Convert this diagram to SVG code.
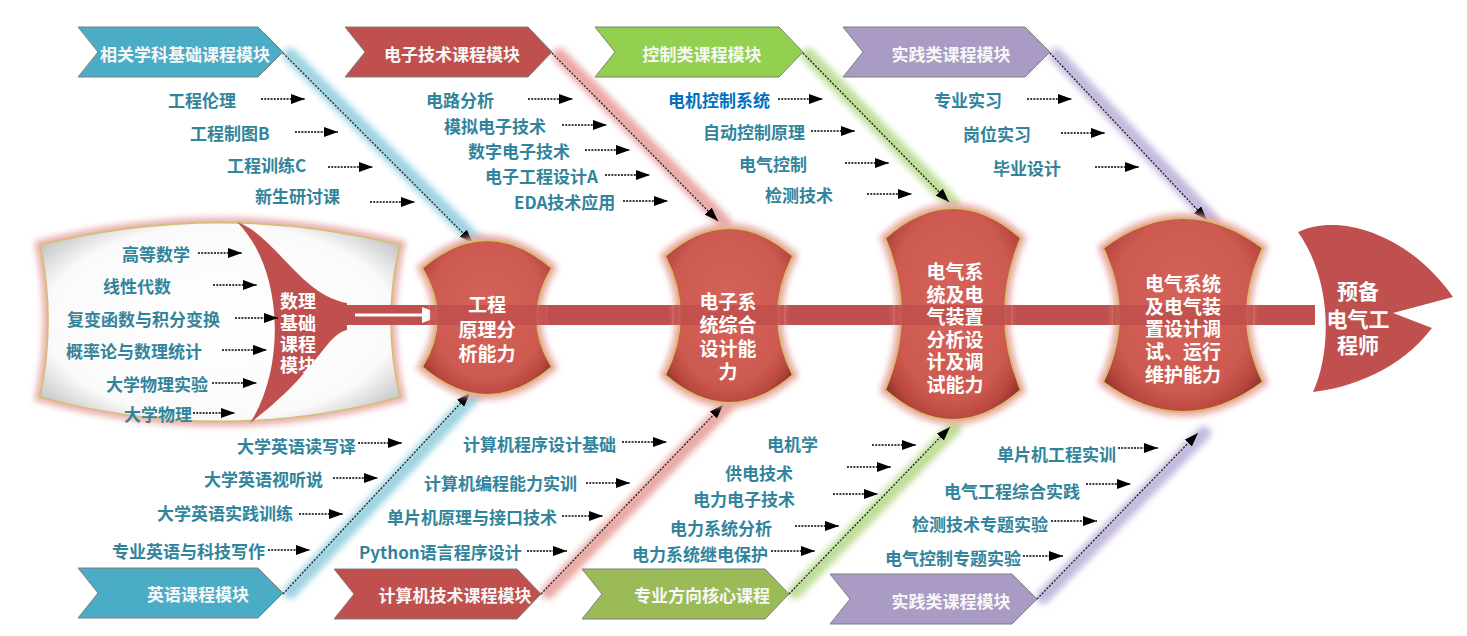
<svg xmlns="http://www.w3.org/2000/svg" width="1467" height="636" viewBox="0 0 1467 636">
<defs>
<style>
.t{font-family:"Noto Sans CJK SC","Noto Sans",sans-serif;font-weight:bold;font-size:17px;fill:#31849B;dominant-baseline:central}
.tb{fill:#0070C0}
.ct{font-family:"Noto Sans CJK SC","Noto Sans",sans-serif;font-weight:bold;font-size:17px;fill:#F7F7F7;text-anchor:middle;dominant-baseline:central}
.ft{font-size:18px;fill:#FFFFFF}
.nt{font-family:"Noto Sans CJK SC","Noto Sans",sans-serif;font-weight:bold;font-size:19px;fill:#FFFFFF;text-anchor:middle;dominant-baseline:central}
.ht{font-family:"Noto Sans CJK SC","Noto Sans",sans-serif;font-weight:bold;font-size:21px;fill:#FFFFFF;text-anchor:middle;dominant-baseline:central}
.sa{stroke:#000;stroke-width:1.3;stroke-dasharray:2 1.2;fill:none;marker-end:url(#ah)}
.dg{stroke:#222;stroke-width:1.3;stroke-dasharray:2 1.5;fill:none;marker-end:url(#ah)}
.chev{stroke:#7F7F7F;stroke-width:1}
.glow{fill:none;stroke-width:14;stroke-linecap:round;filter:url(#bl)}
.nodeglow{fill:none;stroke:#E9A7A2;stroke-width:9;filter:url(#bl)}
.node{fill:url(#ng);stroke:#D9BC72;stroke-width:2}
.band{fill:#C0504D;opacity:0.88}
</style>
<marker id="ah" markerWidth="14" markerHeight="10" refX="14" refY="5" orient="auto" markerUnits="userSpaceOnUse">
<path d="M0,0 L14,5 L0,10 Z" fill="#000"/>
</marker>
<filter id="bl" x="-20%" y="-20%" width="140%" height="140%"><feGaussianBlur stdDeviation="3"/></filter>
<radialGradient id="ng" cx="0.5" cy="0.45" r="0.62">
<stop offset="0" stop-color="#D5635A"/>
<stop offset="0.72" stop-color="#CD5A50"/>
<stop offset="0.9" stop-color="#B8473F"/>
<stop offset="1" stop-color="#98352F"/>
</radialGradient>
<radialGradient id="pg" cx="0.5" cy="0.5" r="0.65">
<stop offset="0" stop-color="#FFFFFF"/>
<stop offset="0.75" stop-color="#FAFAFA"/>
<stop offset="1" stop-color="#BDBDBD"/>
</radialGradient>
</defs>
<rect width="1467" height="636" fill="#FFFFFF"/>

<!-- tail panel -->
<g id="tail">
<path d="M40,245 Q220,200 400,245 Q382,320 400,397 Q220,446 40,397 Q56,320 40,245 Z" fill="none" stroke="#E8AFAA" stroke-width="10" filter="url(#bl)"/>
<path d="M40,245 Q220,200 400,245 Q382,320 400,397 Q220,446 40,397 Q56,320 40,245 Z" fill="url(#pg)" stroke="#D6BE7A" stroke-width="1.8"/>
<path d="M237,222 C275,235 300,295 347,303 L347,330 C325,335 318,372 250,423 C285,370 285,270 237,222 Z" fill="#C0504D"/>
<text class="ct ft" x="298" y="300"><tspan x="298" y="300">数理</tspan><tspan x="298" y="322">基础</tspan><tspan x="298" y="343">课程</tspan><tspan x="298" y="364">模块</tspan></text>
</g>

<!-- connectors -->
<g id="connectors">
<rect x="345" y="305" width="970" height="20" fill="#C0504D"/>
<line x1="355" y1="315" x2="424" y2="315" stroke="#FFFFFF" stroke-width="3"/>
<path d="M422,307 L443,315 L422,323 Z" fill="#FFFFFF"/>
<!-- glows -->
<line class="glow" x1="290" y1="55" x2="478" y2="243" stroke="#9ED3E1"/>
<line class="glow" x1="290" y1="592" x2="476" y2="393" stroke="#9ED3E1"/>
<line class="glow" x1="559" y1="55" x2="724" y2="222" stroke="#E9A9A6"/>
<line class="glow" x1="548" y1="592" x2="728" y2="405" stroke="#E9A9A6"/>
<line class="glow" x1="808" y1="55" x2="953" y2="204" stroke="#BFDD98"/>
<line class="glow" x1="795" y1="592" x2="955" y2="427" stroke="#BFDD98"/>
<line class="glow" x1="1056" y1="55" x2="1212" y2="220" stroke="#C3B9DE"/>
<line class="glow" x1="1043" y1="597" x2="1204" y2="433" stroke="#C3B9DE"/>
<!-- diagonals -->
<line class="dg" x1="283" y1="53" x2="473" y2="243"/>
<line class="dg" x1="552" y1="53" x2="718" y2="221"/>
<line class="dg" x1="803" y1="53" x2="949" y2="202"/>
<line class="dg" x1="1050" y1="53" x2="1207" y2="220"/>
<line class="dg" x1="283" y1="594" x2="470" y2="393"/>
<line class="dg" x1="541" y1="594" x2="723" y2="405"/>
<line class="dg" x1="789" y1="594" x2="950" y2="427"/>
<line class="dg" x1="1037" y1="599" x2="1198" y2="433"/>
<!-- short arrows -->
<line class="sa" x1="261" y1="99" x2="305" y2="99"/>
<line class="sa" x1="295" y1="132" x2="338" y2="132"/>
<line class="sa" x1="328" y1="167" x2="373" y2="167"/>
<line class="sa" x1="370" y1="202" x2="415" y2="202"/>
<line class="sa" x1="198" y1="253" x2="242" y2="253"/>
<line class="sa" x1="213" y1="285" x2="257" y2="285"/>
<line class="sa" x1="235" y1="318" x2="278" y2="318"/>
<line class="sa" x1="222" y1="350" x2="267" y2="350"/>
<line class="sa" x1="212" y1="383" x2="257" y2="383"/>
<line class="sa" x1="193" y1="413" x2="235" y2="413"/>
<line class="sa" x1="358" y1="443" x2="402" y2="443"/>
<line class="sa" x1="333" y1="478" x2="378" y2="478"/>
<line class="sa" x1="299" y1="514" x2="343" y2="514"/>
<line class="sa" x1="268" y1="550" x2="310" y2="550"/>
<line class="sa" x1="528" y1="99" x2="573" y2="99"/>
<line class="sa" x1="562" y1="125" x2="607" y2="125"/>
<line class="sa" x1="585" y1="150" x2="630" y2="150"/>
<line class="sa" x1="605" y1="175" x2="650" y2="175"/>
<line class="sa" x1="623" y1="201" x2="668" y2="201"/>
<line class="sa" x1="778" y1="99" x2="823" y2="99"/>
<line class="sa" x1="811" y1="131" x2="855" y2="131"/>
<line class="sa" x1="845" y1="163" x2="889" y2="163"/>
<line class="sa" x1="867" y1="194" x2="912" y2="194"/>
<line class="sa" x1="1027" y1="99" x2="1072" y2="99"/>
<line class="sa" x1="1061" y1="133" x2="1105" y2="133"/>
<line class="sa" x1="1095" y1="167" x2="1139" y2="167"/>
<line class="sa" x1="622" y1="442" x2="667" y2="442"/>
<line class="sa" x1="586" y1="483" x2="630" y2="483"/>
<line class="sa" x1="562" y1="516" x2="603" y2="516"/>
<line class="sa" x1="527" y1="551" x2="567" y2="551"/>
<line class="sa" x1="872" y1="445" x2="916" y2="445"/>
<line class="sa" x1="847" y1="467" x2="891" y2="467"/>
<line class="sa" x1="833" y1="494" x2="878" y2="494"/>
<line class="sa" x1="795" y1="526" x2="839" y2="526"/>
<line class="sa" x1="771" y1="551" x2="815" y2="551"/>
<line class="sa" x1="1118" y1="448" x2="1158" y2="448"/>
<line class="sa" x1="1086" y1="484" x2="1131" y2="484"/>
<line class="sa" x1="1051" y1="521" x2="1097" y2="521"/>
<line class="sa" x1="1023" y1="556" x2="1063" y2="556"/>
</g>

<!-- chevrons -->
<g id="chev-top-basic"><path class="chev" d="M78,27 L258,27 L283,52 L258,77 L78,77 L98,52 Z" fill="#4BACC6"/><text class="ct" x="185" y="53">相关学科基础课程模块</text></g>
<g id="chev-top-elec"><path class="chev" d="M345,27 L528,27 L552,52 L528,77 L345,77 L365,52 Z" fill="#C0504D"/><text class="ct" x="452" y="53">电子技术课程模块</text></g>
<g id="chev-top-ctrl"><path class="chev" d="M595,27 L779,27 L803,52 L779,77 L595,77 L615,52 Z" fill="#92D050"/><text class="ct" x="702" y="53">控制类课程模块</text></g>
<g id="chev-top-prac"><path class="chev" d="M843,27 L1025,27 L1050,52 L1025,77 L843,77 L863,52 Z" fill="#A99BC3"/><text class="ct" x="951" y="53">实践类课程模块</text></g>
<g id="chev-bot-eng"><path class="chev" d="M78,568 L258,568 L283,593 L258,618 L78,618 L98,593 Z" fill="#4BACC6"/><text class="ct" x="198" y="593">英语课程模块</text></g>
<g id="chev-bot-comp"><path class="chev" d="M334,569 L517,569 L541,594 L517,619 L334,619 L354,594 Z" fill="#C0504D"/><text class="ct" x="455" y="594">计算机技术课程模块</text></g>
<g id="chev-bot-core"><path class="chev" d="M582,569 L765,569 L789,594 L765,619 L582,619 L602,594 Z" fill="#9BBB59"/><text class="ct" x="702" y="594">专业方向核心课程</text></g>
<g id="chev-bot-prac"><path class="chev" d="M830,574 L1012,574 L1037,599 L1012,624 L830,624 L850,599 Z" fill="#A99BC3"/><text class="ct" x="951" y="600">实践类课程模块</text></g>

<!-- course labels -->
<g id="labels">
<text class="t" x="168" y="99">工程伦理</text>
<text class="t" x="190" y="132">工程制图B</text>
<text class="t" x="227" y="164">工程训练C</text>
<text class="t" x="255" y="195">新生研讨课</text>
<text class="t" x="122" y="253">高等数学</text>
<text class="t" x="103" y="285">线性代数</text>
<text class="t" x="67" y="318">复变函数与积分变换</text>
<text class="t" x="66" y="350">概率论与数理统计</text>
<text class="t" x="106" y="383">大学物理实验</text>
<text class="t" x="124" y="413">大学物理</text>
<text class="t" x="237" y="445">大学英语读写译</text>
<text class="t" x="204" y="478">大学英语视听说</text>
<text class="t" x="157" y="512">大学英语实践训练</text>
<text class="t" x="112" y="550">专业英语与科技写作</text>
<text class="t" x="426" y="99">电路分析</text>
<text class="t" x="444" y="125">模拟电子技术</text>
<text class="t" x="468" y="150">数字电子技术</text>
<text class="t" x="485" y="175">电子工程设计A</text>
<text class="t" x="514" y="201">EDA技术应用</text>
<text class="t tb" x="668" y="99">电机控制系统</text>
<text class="t" x="703" y="131">自动控制原理</text>
<text class="t" x="739" y="163">电气控制</text>
<text class="t" x="765" y="194">检测技术</text>
<text class="t" x="934" y="99">专业实习</text>
<text class="t" x="963" y="133">岗位实习</text>
<text class="t" x="993" y="167">毕业设计</text>
<text class="t" x="463" y="443">计算机程序设计基础</text>
<text class="t" x="424" y="482">计算机编程能力实训</text>
<text class="t" x="387" y="516">单片机原理与接口技术</text>
<text class="t" x="359" y="551">Python语言程序设计</text>
<text class="t" x="767" y="443">电机学</text>
<text class="t" x="725" y="472">供电技术</text>
<text class="t" x="693" y="498">电力电子技术</text>
<text class="t" x="670" y="527">电力系统分析</text>
<text class="t" x="632" y="553">电力系统继电保护</text>
<text class="t" x="997" y="453">单片机工程实训</text>
<text class="t" x="944" y="490">电气工程综合实践</text>
<text class="t" x="912" y="523">检测技术专题实验</text>
<text class="t" x="885" y="557">电气控制专题实验</text>
</g>

<!-- ability nodes -->
<g id="node1">
<path class="nodeglow" d="M422,268 Q487,212 552,268 Q522,318 552,367 Q487,423 422,367 Q452,318 422,268 Z"/>
<path class="node" d="M422,268 Q487,212 552,268 Q522,318 552,367 Q487,423 422,367 Q452,318 422,268 Z"/>
<rect class="band" x="430" y="305" width="115" height="20"/>
<text class="nt" x="487" y="303"><tspan x="487" y="303">工程</tspan><tspan x="487" y="328">原理分</tspan><tspan x="487" y="352">析能力</tspan></text>
</g>
<g id="node2">
<path class="nodeglow" d="M665,256 Q729,200 793,256 Q763,316 793,375 Q729,431 665,375 Q695,316 665,256 Z"/>
<path class="node" d="M665,256 Q729,200 793,256 Q763,316 793,375 Q729,431 665,375 Q695,316 665,256 Z"/>
<rect class="band" x="674" y="305" width="110" height="20"/>
<text class="nt" x="728" y="300"><tspan x="728" y="300">电子系</tspan><tspan x="728" y="323">统综合</tspan><tspan x="728" y="347">设计能</tspan><tspan x="728" y="370">力</tspan></text>
</g>
<g id="node3">
<path class="nodeglow" d="M885,238 Q953,178 1021,238 Q989,314 1021,390 Q953,450 885,390 Q917,314 885,238 Z"/>
<path class="node" d="M885,238 Q953,178 1021,238 Q989,314 1021,390 Q953,450 885,390 Q917,314 885,238 Z"/>
<rect class="band" x="895" y="305" width="116" height="20"/>
<text class="nt" x="955" y="270"><tspan x="955" y="270">电气系</tspan><tspan x="955" y="293">统及电</tspan><tspan x="955" y="315">气装置</tspan><tspan x="955" y="338">分析设</tspan><tspan x="955" y="360">计及调</tspan><tspan x="955" y="383">试能力</tspan></text>
</g>
<g id="node4">
<path class="nodeglow" d="M1103,248 Q1183,188 1263,248 Q1231,315 1263,382 Q1183,442 1103,382 Q1135,315 1103,248 Z"/>
<path class="node" d="M1103,248 Q1183,188 1263,248 Q1231,315 1263,382 Q1183,442 1103,382 Q1135,315 1103,248 Z"/>
<rect class="band" x="1113" y="305" width="140" height="20"/>
<text class="nt" x="1183" y="282"><tspan x="1183" y="282">电气系统</tspan><tspan x="1183" y="305">及电气装</tspan><tspan x="1183" y="327">置设计调</tspan><tspan x="1183" y="350">试、运行</tspan><tspan x="1183" y="373">维护能力</tspan></text>
</g>

<!-- head -->
<g id="head">
<path d="M1298,232 C1340,212 1410,235 1453,297 L1393,313 L1432,328 C1400,370 1350,388 1313,392 C1332,350 1332,280 1298,232 Z" fill="#C0504D"/>
<text class="ht" x="1358" y="290"><tspan x="1358" y="290">预备</tspan><tspan x="1358" y="318">电气工</tspan><tspan x="1358" y="344">程师</tspan></text>
</g>
</svg>
